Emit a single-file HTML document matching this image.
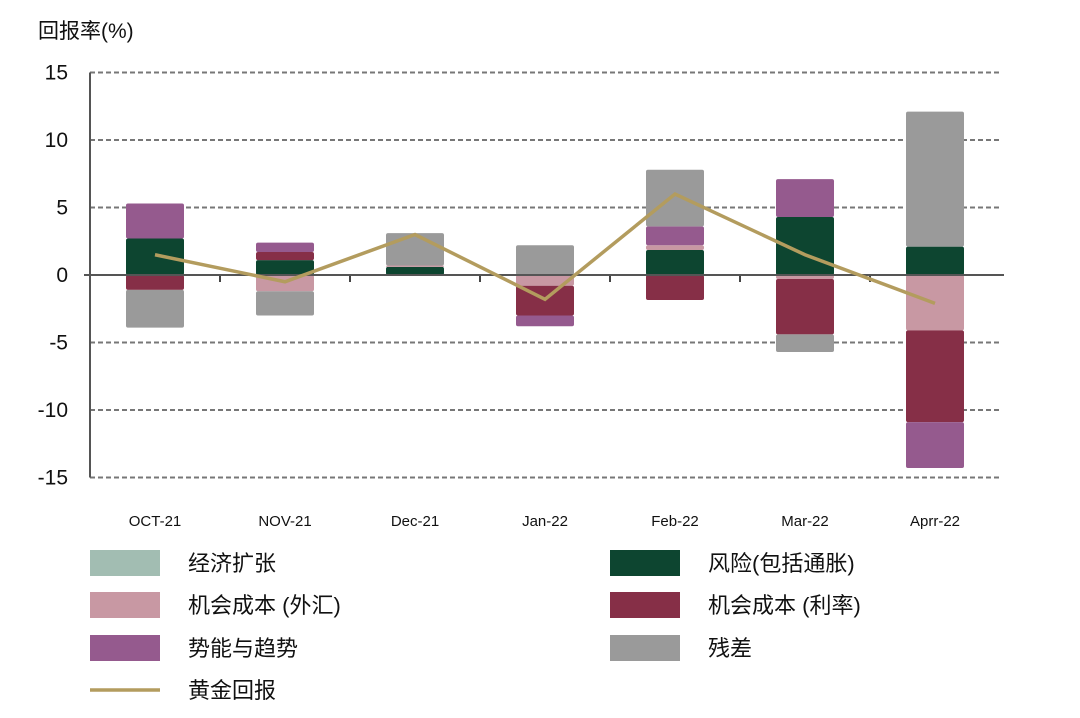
<!DOCTYPE html>
<html><head><meta charset="utf-8"><style>
body{margin:0;background:#fff;}
svg text{font-family:"Liberation Sans","Noto Sans CJK SC",sans-serif;}
</style></head><body>
<svg id="c" width="1080" height="713" viewBox="0 0 1080 713" xmlns="http://www.w3.org/2000/svg">
<text x="38" y="38" font-size="21" fill="#111">回报率(%)</text>
<g id="grid"></g><g id="bars"></g><g id="axes"></g><g id="line"></g><g id="legend"></g>
</svg>
<script>
const categories=["OCT-21","NOV-21","Dec-21","Jan-22","Feb-22","Mar-22","Aprr-22"];
const econ=[0,0,0,0,0,0,0];
const risk=[2.7,1.1,0.6,0,1.85,4.3,2.1];
const fx=[0,-1.2,0.1,-0.8,0.35,-0.3,-4.1];
const rate=[-1.1,0.6,0,-2.2,-1.85,-4.1,-6.8];
const mom=[2.6,0.7,0,-0.8,1.4,2.8,-3.4];
const resid=[-2.8,-1.8,2.4,2.2,4.2,-1.3,10.0];
const gold=[1.5,-0.5,3.0,-1.8,6.0,1.5,-2.1];
const yTicks=[15,10,5,0,-5,-10,-15];
const seriesNames=["经济扩张","风险(包括通胀)","机会成本 (外汇)","机会成本 (利率)","势能与趋势","残差"];
const NS="http://www.w3.org/2000/svg";
const x0=90,x1=1000,yZero=275,pxPer=13.5,band=(x1-x0)/categories.length,bw=58;
const y=v=>yZero-v*pxPer;
const xc=i=>x0+band*(i+0.5);
function mk(tag,attrs,parent){const e=document.createElementNS(NS,tag);for(const k in attrs)e.setAttribute(k,attrs[k]);parent.appendChild(e);return e;}
const grid=document.getElementById('grid'),bars=document.getElementById('bars'),axes=document.getElementById('axes'),lineG=document.getElementById('line'),leg=document.getElementById('legend');
yTicks.forEach(t=>{
  if(t!==0){const l=mk('line',{x1:x0,x2:x1,y1:y(t),y2:y(t),stroke:'#777','stroke-width':2,'stroke-dasharray':'5,3'},grid);
  
  }
  const tx=mk('text',{x:68,y:y(t)+7,'text-anchor':'end','font-size':21,fill:'#111'},axes);
  tx.textContent=t;
  
  
});
const series=[econ,risk,fx,rate,mom,resid];
const colors=["#a2bdb2","#0d4530","#c898a3","#862f47","#955a8e","#9a9a9a"];
const keys=["econ","risk","fx","rate","mom","resid"];
categories.forEach((c,i)=>{
  let pos=0,neg=0;
  series.forEach((s,k)=>{
    const v=s[i]; if(!v) return;
    let a,b; if(v>0){a=pos;b=pos+v;pos=b;}else{a=neg;b=neg+v;neg=b;}
    const r=mk('rect',{x:xc(i)-bw/2,y:Math.min(y(a),y(b)),width:bw,height:Math.abs(y(a)-y(b)),fill:colors[k],rx:2},bars);
    
    
  });
  const t=mk('text',{x:xc(i),y:526,'text-anchor':'middle','font-size':15,fill:'#111'},axes);
  t.textContent=c;
  
  
  if(i>0){const tk=mk('line',{x1:x0+band*i,x2:x0+band*i,y1:yZero,y2:yZero+7,stroke:'#444','stroke-width':2},axes);
  
  }
});
const ya=mk('line',{x1:x0,x2:x0,y1:y(15),y2:y(-15),stroke:'#555','stroke-width':2},axes);


const xa=mk('line',{x1:x0-6,x2:x1+4,y1:yZero,y2:yZero,stroke:'#555','stroke-width':2},axes);


const pl=mk('polyline',{points:gold.map((v,i)=>xc(i)+','+y(v)).join(' '),fill:'none',stroke:'#b39c5e','stroke-width':3.5},lineG);


const legPos=[[90,563],[610,563],[90,605],[610,605],[90,648],[610,648]];
const legOrder=[0,1,2,3,4,5];
legOrder.forEach((k,j)=>{
  const [lx,ly]=legPos[j];
  const r=mk('rect',{x:lx,y:ly-13,width:70,height:26,fill:colors[k]},leg);
  
  
  const t=mk('text',{x:lx+98,y:ly+8,'font-size':22,fill:'#111'},leg);
  t.textContent=seriesNames[k];
  
  
});
const gl=mk('line',{x1:90,x2:160,y1:690,y2:690,stroke:'#b39c5e','stroke-width':3.5},leg);


const gt=mk('text',{x:188,y:698,'font-size':22,fill:'#111'},leg);
gt.textContent="黄金回报";


</script>
</body></html>
